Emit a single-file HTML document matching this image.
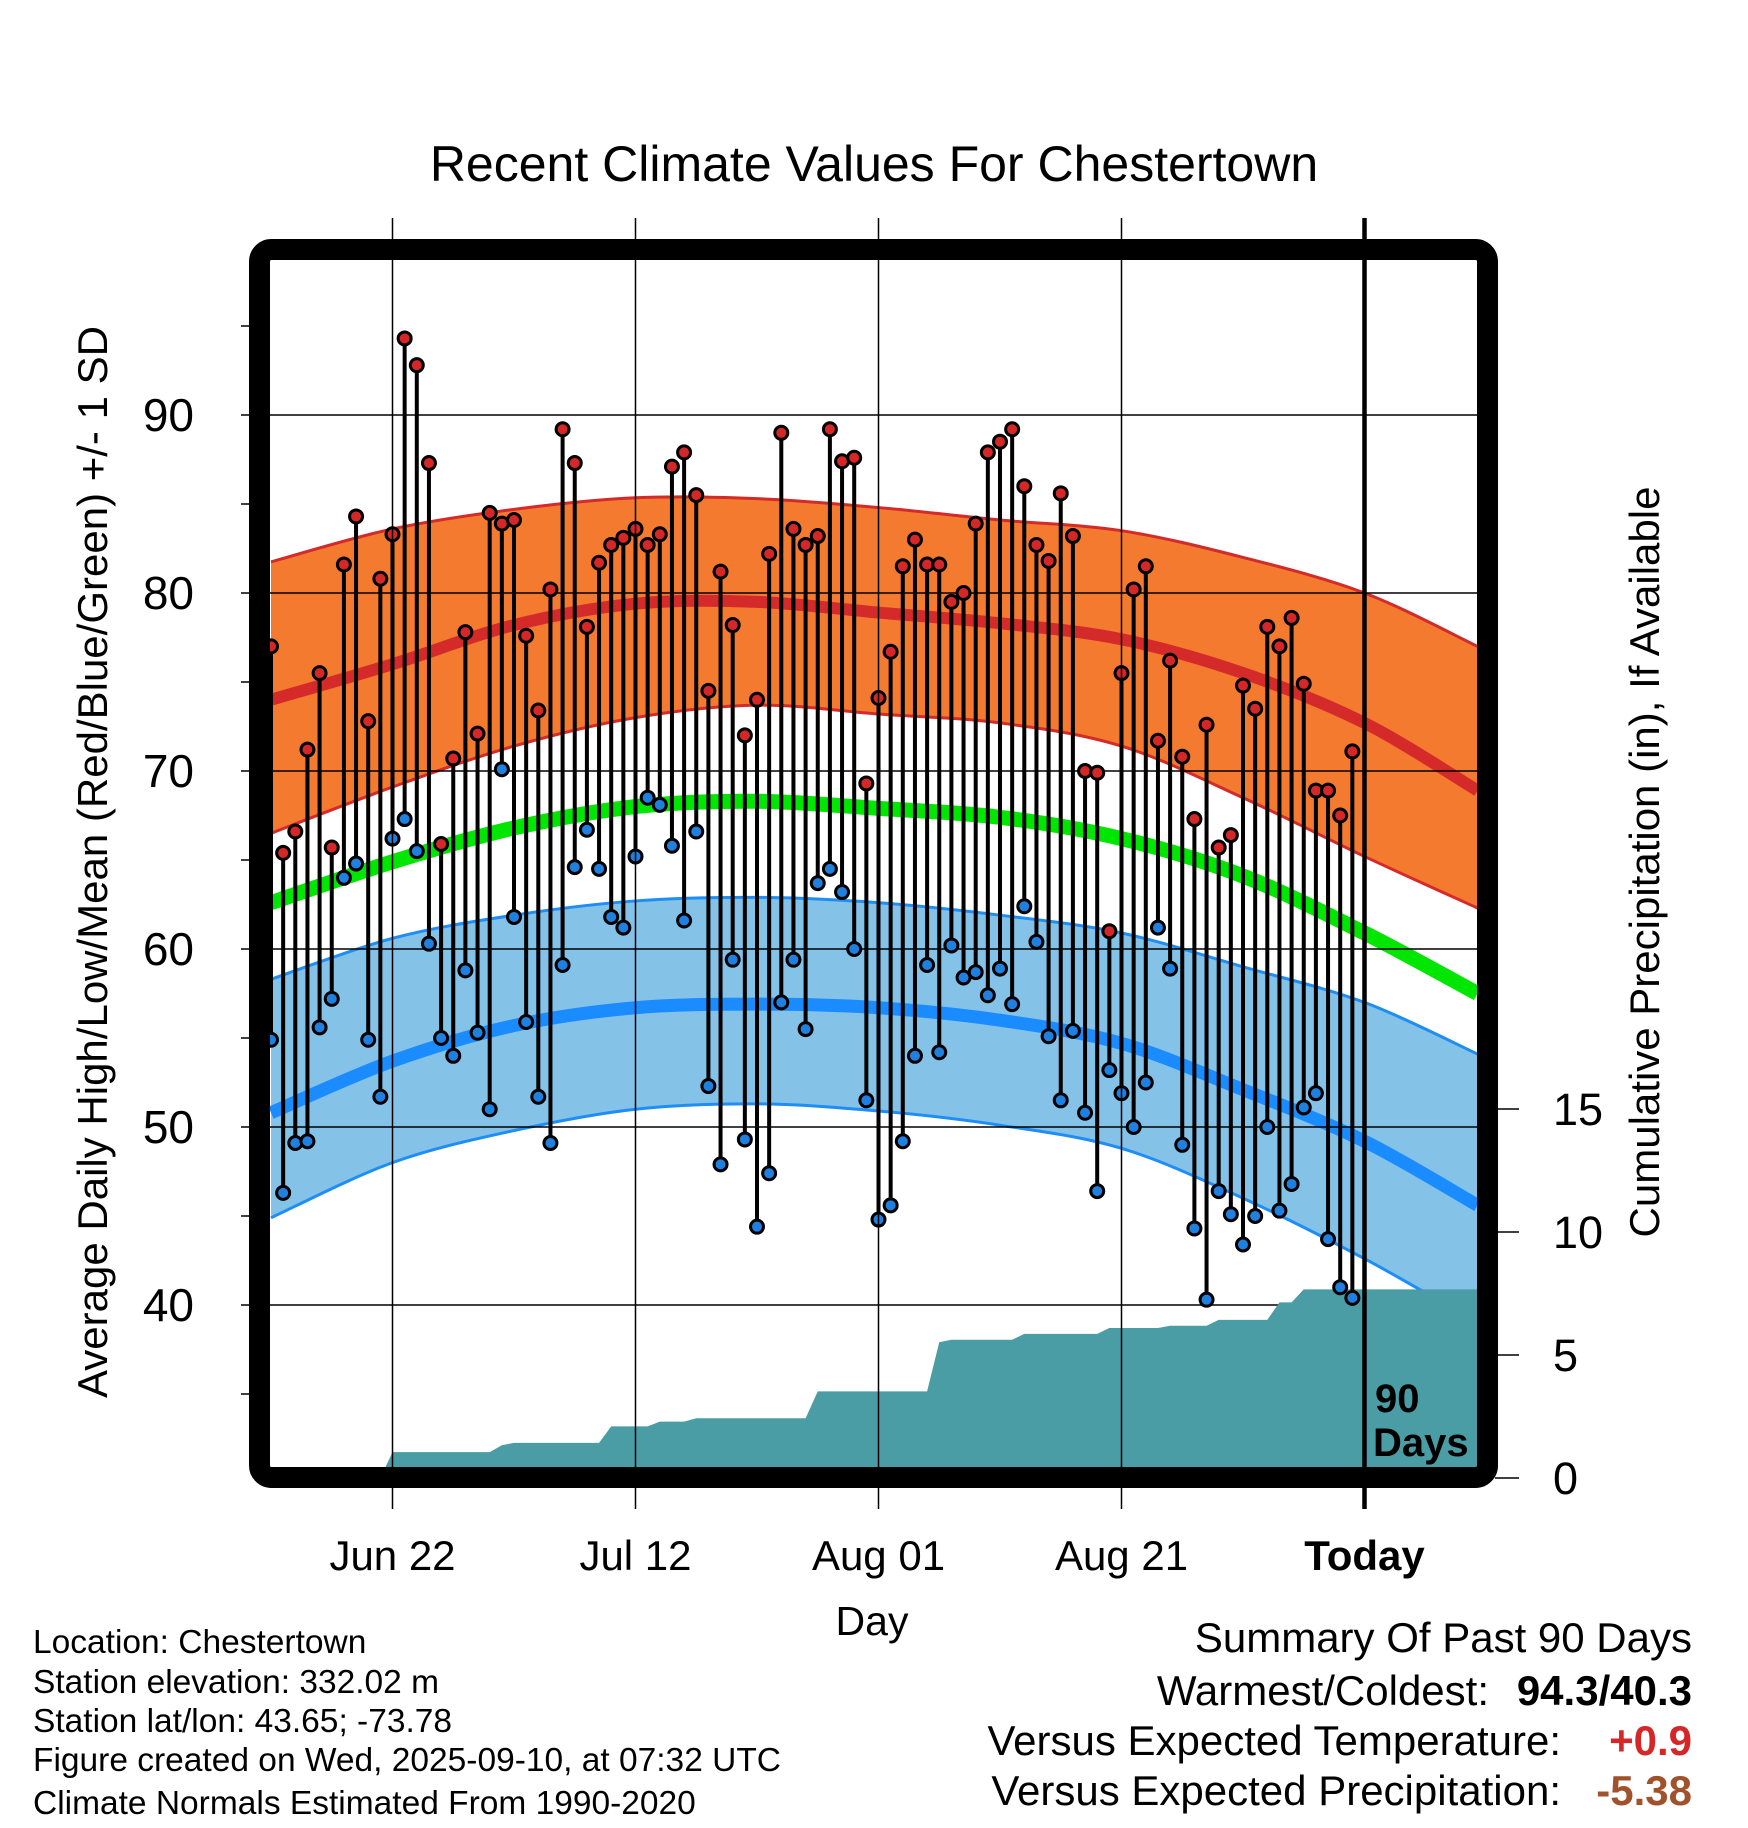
<!DOCTYPE html>
<html><head><meta charset="utf-8"><style>
body{margin:0;background:#fff}
svg{display:block;font-family:"Liberation Sans",sans-serif}
</style></head><body>
<svg id="chart" width="1748" height="1828" viewBox="0 0 1748 1828" xmlns="http://www.w3.org/2000/svg">
<defs><clipPath id="plotclip"><rect x="270" y="260" width="1208" height="1208"/></clipPath></defs>
<text x="874" y="181" font-size="50" text-anchor="middle">Recent Climate Values For Chestertown</text>
<g id="plot" clip-path="url(#plotclip)"></g>
<g id="axes"></g>
<rect x="259.5" y="249.5" width="1228" height="1228" rx="12" fill="none" stroke="#000" stroke-width="21"/>
<text transform="translate(107,862) rotate(-90)" font-size="42" text-anchor="middle">Average Daily High/Low/Mean (Red/Blue/Green) +/- 1 SD</text>
<text transform="translate(1659,862) rotate(-90)" font-size="42" text-anchor="middle">Cumulative Precipitation (in), If Available</text>
<text x="872" y="1635" font-size="41" text-anchor="middle">Day</text>
<text x="1375" y="1412" font-size="40" font-weight="bold">90</text>
<text x="1373" y="1456" font-size="40" font-weight="bold">Days</text>
<g font-size="33.5">
<text x="33" y="1653">Location: Chestertown</text>
<text x="33" y="1693">Station elevation: 332.02 m</text>
<text x="33" y="1732">Station lat/lon: 43.65; -73.78</text>
<text x="33" y="1771">Figure created on Wed, 2025-09-10, at 07:32 UTC</text>
<text x="33" y="1814">Climate Normals Estimated From 1990-2020</text>
</g>
<g font-size="42" text-anchor="end">
<text x="1692" y="1652">Summary Of Past 90 Days</text>
<text x="1489" y="1705">Warmest/Coldest:</text>
<text x="1692" y="1705" font-weight="bold">94.3/40.3</text>
<text x="1561" y="1755">Versus Expected Temperature:</text>
<text x="1692" y="1755" font-weight="bold" fill="#d62728">+0.9</text>
<text x="1561" y="1805">Versus Expected Precipitation:</text>
<text x="1692" y="1805" font-weight="bold" fill="#a0522d">-5.38</text>
</g>
</svg>
<script>
const highs=[77.0,65.4,66.6,71.2,75.5,65.7,81.6,84.3,72.8,80.8,83.3,94.3,92.8,87.3,65.9,70.7,77.8,72.1,84.5,83.9,84.1,77.6,73.4,80.2,89.2,87.3,78.1,81.7,82.7,83.1,83.6,82.7,83.3,87.1,87.9,85.5,74.5,81.2,78.2,72.0,74.0,82.2,89.0,83.6,82.7,83.2,89.2,87.4,87.6,69.3,74.1,76.7,81.5,83.0,81.6,81.6,79.5,80.0,83.9,87.9,88.5,89.2,86.0,82.7,81.8,85.6,83.2,70.0,69.9,61.0,75.5,80.2,81.5,71.7,76.2,70.8,67.3,72.6,65.7,66.4,74.8,73.5,78.1,77.0,78.6,74.9,68.9,68.9,67.5,71.1];
const lows=[54.9,46.3,49.1,49.2,55.6,57.2,64.0,64.8,54.9,51.7,66.2,67.3,65.5,60.3,55.0,54.0,58.8,55.3,51.0,70.1,61.8,55.9,51.7,49.1,59.1,64.6,66.7,64.5,61.8,61.2,65.2,68.5,68.1,65.8,61.6,66.6,52.3,47.9,59.4,49.3,44.4,47.4,57.0,59.4,55.5,63.7,64.5,63.2,60.0,51.5,44.8,45.6,49.2,54.0,59.1,54.2,60.2,58.4,58.7,57.4,58.9,56.9,62.4,60.4,55.1,51.5,55.4,50.8,46.4,53.2,51.9,50.0,52.5,61.2,58.9,49.0,44.3,40.3,46.4,45.1,43.4,45.0,50.0,45.3,46.8,51.1,51.9,43.7,41.0,40.4];
const precip=[0,0,0,0,0,0,0,0,0,0,1.05,1.05,1.05,1.05,1.05,1.05,1.05,1.05,1.05,1.33,1.43,1.43,1.43,1.43,1.43,1.43,1.43,1.43,2.1,2.1,2.1,2.1,2.29,2.29,2.29,2.43,2.43,2.43,2.43,2.43,2.43,2.43,2.43,2.43,2.43,3.52,3.52,3.52,3.52,3.52,3.52,3.52,3.52,3.52,3.52,5.52,5.62,5.62,5.62,5.62,5.62,5.62,5.86,5.86,5.86,5.86,5.86,5.86,5.86,6.1,6.1,6.1,6.1,6.1,6.19,6.19,6.19,6.19,6.43,6.43,6.43,6.43,6.43,7.14,7.14,7.67,7.67,7.67,7.67,7.67];
const normDays=[0,10,20,30,40,50,60,70,80,90,99.3];
const hiUpper=[81.75,83.6,84.7,85.35,85.3,84.8,84.1,83.5,82.0,80.0,77.0];
const hiMean=[74.0,76.0,78.2,79.4,79.5,78.9,78.3,77.4,75.5,72.7,68.9];
const hiLower=[66.5,69.1,71.4,73.0,73.7,73.2,72.7,71.4,68.5,65.2,62.3];
const avgMean=[62.6,64.9,66.8,68.0,68.3,67.9,67.4,66.2,64.1,60.9,57.5];
const loUpper=[58.3,60.6,61.9,62.7,62.9,62.6,61.9,60.9,59.0,57.0,54.1];
const loMean=[50.8,53.7,55.7,56.7,56.9,56.7,56.0,54.7,52.1,49.2,45.6];
const loLower=[44.9,48.0,49.8,51.0,51.3,50.9,50.1,48.8,46.0,42.6,39.0];
const dateTicks=[10,30,50,70,90];
const dateLabels=["Jun 22","Jul 12","Aug 01","Aug 21","Today"];
const tempTicks=[40,50,60,70,80,90];
const precipTicks=[0,5,10,15];

const NS="http://www.w3.org/2000/svg";
const X=i=>271+i*12.15;
const Y=v=>415+(90-v)*17.8;
const P=p=>1478-p*24.6;
const plot=document.getElementById('plot'), axes=document.getElementById('axes');
function mk(tag,attrs,parent){const e=document.createElementNS(NS,tag);for(const k in attrs)e.setAttribute(k,attrs[k]);parent.appendChild(e);return e;}
function curve(pts){
  let s='';
  for(let i=0;i<pts.length-1;i++){
    const p0=pts[Math.max(0,i-1)],p1=pts[i],p2=pts[i+1],p3=pts[Math.min(pts.length-1,i+2)];
    s+=` C${p1[0]+(p2[0]-p0[0])/6},${p1[1]+(p2[1]-p0[1])/6} ${p2[0]-(p3[0]-p1[0])/6},${p2[1]-(p3[1]-p1[1])/6} ${p2[0]},${p2[1]}`;
  }
  return s;
}
function smooth(vals){
  const pts=normDays.map((d,i)=>[X(d),Y(vals[i])]);
  return `M${pts[0][0]},${pts[0][1]}`+curve(pts);
}
function band(up,lo,fill,edge,name){
  const ptsLo=normDays.map((d,i)=>[X(d),Y(lo[i])]).reverse();
  let s=smooth(up)+` L${ptsLo[0][0]},${ptsLo[0][1]}`+curve(ptsLo)+'Z';
  const b=mk('path',{d:s,fill:fill,stroke:'none'},plot);
  
  
  const e1=mk('path',{d:smooth(up),fill:'none',stroke:edge,'stroke-width':3},plot);
  
  
  const e2=mk('path',{d:smooth(lo),fill:'none',stroke:edge,'stroke-width':3},plot);
  
  
}
band(hiUpper,hiLower,'#f47a30','#d42a2a','high-sd-band');
band(loUpper,loLower,'#85c2e8','#1e8ef5','low-sd-band');
let l;
l=mk('path',{d:smooth(hiMean),fill:'none',stroke:'#d42a2a','stroke-width':12},plot);


l=mk('path',{d:smooth(avgMean),fill:'none',stroke:'#00e600','stroke-width':15},plot);


l=mk('path',{d:smooth(loMean),fill:'none',stroke:'#1a8cff','stroke-width':13},plot);


tempTicks.forEach(t=>{
  const g=mk('line',{x1:270,x2:1478,y1:Y(t),y2:Y(t),stroke:'#000','stroke-width':1.5},plot);
  
  
});
let d=`M${X(0)},${P(0)+20}`;
precip.forEach((p,i)=>{d+=` L${X(i)},${P(p)}`;});
d+=` L1480,${P(precip[precip.length-1])} L1480,1490 L${X(0)},1490Z`;
const pa=mk('path',{d:d,fill:'#4a9ca5'},plot);


dateTicks.forEach((t,i)=>{
  const isToday=i===dateTicks.length-1;
  const g=mk('line',{x1:X(t),x2:X(t),y1:218,y2:1509,stroke:'#000','stroke-width':isToday?4.5:1.5},axes);
  
  
  const tx=mk('text',{x:X(t),y:1570,'font-size':42,'text-anchor':'middle','font-weight':isToday?'bold':'normal'},axes);
  tx.textContent=dateLabels[i];
  
  
});
highs.forEach((h,i)=>{
  const s=mk('line',{x1:X(i),x2:X(i),y1:Y(h),y2:Y(lows[i]),stroke:'#000','stroke-width':4},plot);
  
  
});
highs.forEach((h,i)=>{
  const c=mk('circle',{cx:X(i),cy:Y(h),r:6.5,fill:'#d62728',stroke:'#000','stroke-width':3},plot);
  
  
  const c2=mk('circle',{cx:X(i),cy:Y(lows[i]),r:6.5,fill:'#1f80e0',stroke:'#000','stroke-width':3},plot);
  
  
});
for(let v=35;v<=95;v+=5){
  const t=mk('line',{x1:241,x2:255,y1:Y(v),y2:Y(v),stroke:'#000','stroke-width':1.5},axes);
  
  
}
tempTicks.forEach(v=>{
  const tx=mk('text',{x:194,y:Y(v)+16,'font-size':46,'text-anchor':'end'},axes);
  tx.textContent=v;
  
  
});
precipTicks.forEach(v=>{
  const t=mk('line',{x1:1495,x2:1519,y1:P(v),y2:P(v),stroke:'#000','stroke-width':1.5},axes);
  
  
  const tx=mk('text',{x:1553,y:P(v)+16,'font-size':45},axes);
  tx.textContent=v;
  
  
});
</script>
</body></html>
